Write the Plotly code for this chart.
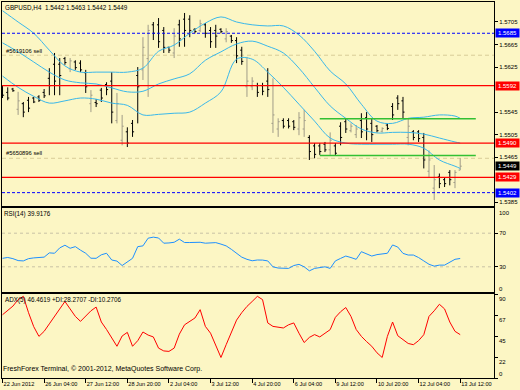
import plotly.graph_objects as go

# ---------------- data ----------------
bar_idx = list(range(89))
bar_open = [1.5588, 1.5580, 1.5586, 1.5550, 1.5560, 1.5566, 1.5570, 1.5572, 1.5580, 1.5605,
            1.5630, 1.5630, 1.5640, 1.5622, 1.5634, 1.5632, 1.5615, 1.5560, 1.5562, 1.5584,
            1.5594, 1.5600, 1.5530, 1.5495, 1.5510, 1.5525, 1.5610, 1.5620, 1.5640, 1.5700,
            1.5700, 1.5690, 1.5660, 1.5650, 1.5700, 1.5710, 1.5710, 1.5692, 1.5690, 1.5700,
            1.5690, 1.5690, 1.5692, 1.5675, 1.5680, 1.5672, 1.5655, 1.5590, 1.5590, 1.5592,
            1.5592, 1.5600, 1.5525, 1.5515, 1.5530, 1.5530, 1.5528, 1.5515, 1.5515, 1.5500,
            1.5485, 1.5485, 1.5488, 1.5478, 1.5485, 1.5520, 1.5528, 1.5512, 1.5505, 1.5530,
            1.5535, 1.5525, 1.5520, 1.5511, 1.5522, 1.5555, 1.5570, 1.5565, 1.5500, 1.5510,
            1.5510, 1.5500, 1.5440, 1.5410, 1.5430, 1.5425, 1.5438, 1.5420, 1.5442]
bar_high = [1.5593, 1.5589, 1.5588, 1.5581, 1.5563, 1.5572, 1.5572, 1.5575, 1.5586, 1.5623,
            1.5650, 1.5641, 1.5643, 1.5641, 1.5637, 1.5637, 1.5620, 1.5584, 1.5568, 1.5588,
            1.5598, 1.5616, 1.5579, 1.5540, 1.5518, 1.5531, 1.5625, 1.5678, 1.5700, 1.5705,
            1.5712, 1.5696, 1.5661, 1.5694, 1.5709, 1.5721, 1.5717, 1.5694, 1.5709, 1.5703,
            1.5696, 1.5700, 1.5694, 1.5694, 1.5682, 1.5678, 1.5661, 1.5643, 1.5607, 1.5597,
            1.5597, 1.5623, 1.5605, 1.5534, 1.5534, 1.5534, 1.5531, 1.5545, 1.5549, 1.5504,
            1.5490, 1.5490, 1.5492, 1.5509, 1.5490, 1.5527, 1.5534, 1.5525, 1.5522, 1.5543,
            1.5545, 1.5534, 1.5522, 1.5518, 1.5525, 1.5561, 1.5575, 1.5572, 1.5534, 1.5513,
            1.5513, 1.5508, 1.5477, 1.5451, 1.5436, 1.5429, 1.5442, 1.5442, 1.5463]
bar_low = [1.5570, 1.5566, 1.5581, 1.5540, 1.5536, 1.5545, 1.5561, 1.5563, 1.5570, 1.5575,
           1.5575, 1.5575, 1.5629, 1.5616, 1.5620, 1.5616, 1.5579, 1.5545, 1.5554, 1.5563,
           1.5575, 1.5525, 1.5525, 1.5486, 1.5483, 1.5501, 1.5525, 1.5602, 1.5572, 1.5673,
           1.5659, 1.5650, 1.5650, 1.5641, 1.5661, 1.5661, 1.5678, 1.5685, 1.5687, 1.5677,
           1.5659, 1.5659, 1.5685, 1.5669, 1.5668, 1.5632, 1.5629, 1.5572, 1.5584, 1.5572,
           1.5575, 1.5572, 1.5508, 1.5501, 1.5516, 1.5516, 1.5513, 1.5504, 1.5501, 1.5460,
           1.5463, 1.5469, 1.5474, 1.5469, 1.5469, 1.5486, 1.5508, 1.5509, 1.5499, 1.5499,
           1.5495, 1.5492, 1.5509, 1.5509, 1.5513, 1.5531, 1.5549, 1.5534, 1.5486, 1.5495,
           1.5492, 1.5445, 1.5429, 1.5389, 1.5410, 1.5412, 1.5415, 1.5410, 1.5442]
bar_close = [1.5575, 1.5570, 1.5583, 1.5565, 1.5545, 1.5552, 1.5563, 1.5566, 1.5574, 1.5592,
             1.5600, 1.5610, 1.5633, 1.5636, 1.5624, 1.5620, 1.5590, 1.5575, 1.5560, 1.5570,
             1.5585, 1.5545, 1.5560, 1.5520, 1.5490, 1.5510, 1.5590, 1.5660, 1.5690, 1.5685,
             1.5670, 1.5660, 1.5655, 1.5680, 1.5675, 1.5690, 1.5690, 1.5688, 1.5702, 1.5685,
             1.5670, 1.5680, 1.5688, 1.5688, 1.5672, 1.5645, 1.5635, 1.5600, 1.5600, 1.5580,
             1.5582, 1.5585, 1.5540, 1.5528, 1.5520, 1.5520, 1.5518, 1.5535, 1.5530, 1.5475,
             1.5470, 1.5475, 1.5478, 1.5495, 1.5472, 1.5500, 1.5515, 1.5520, 1.5515, 1.5510,
             1.5515, 1.5505, 1.5512, 1.5516, 1.5516, 1.5540, 1.5560, 1.5545, 1.5520, 1.5500,
             1.5498, 1.5460, 1.5460, 1.5425, 1.5418, 1.5418, 1.5425, 1.5438, 1.5449]

band_idx = [0, 3, 6, 9, 12, 15, 18, 21, 24, 27, 30, 33, 36, 39, 42, 45, 48, 51, 54, 57,
            60, 63, 66, 69, 72, 75, 78, 81, 84, 87, 88]
band_upper = [1.5725, 1.5705, 1.5685, 1.5655, 1.5627, 1.5616, 1.5616, 1.5616, 1.5616, 1.5623,
              1.5653, 1.5664, 1.5685, 1.5703, 1.5714, 1.5705, 1.5700, 1.5698, 1.5698, 1.5682,
              1.5653, 1.5618, 1.5595, 1.5559, 1.5529, 1.5525, 1.5534, 1.5536, 1.5540, 1.5538, 1.5534]
band_middle = [1.5668, 1.5652, 1.5634, 1.5616, 1.5602, 1.5597, 1.5595, 1.5588, 1.5581, 1.5582,
               1.5595, 1.5604, 1.5613, 1.5637, 1.5652, 1.5666, 1.5671, 1.5662, 1.5650, 1.5623,
               1.5589, 1.5556, 1.5534, 1.5515, 1.5508, 1.5509, 1.5509, 1.5506, 1.5499, 1.5492, 1.5490]
band_lower = [1.5609, 1.5589, 1.5573, 1.5561, 1.5565, 1.5570, 1.5568, 1.5561, 1.5557, 1.5540,
              1.5541, 1.5543, 1.5545, 1.5561, 1.5581, 1.5639, 1.5639, 1.5616, 1.5589, 1.5559,
              1.5529, 1.5499, 1.5490, 1.5488, 1.5488, 1.5488, 1.5488, 1.5481, 1.5460, 1.5449, 1.5445]

rsi = [40.1, 41.1, 39.7, 37.4, 37.0, 39.7, 40.6, 41.1, 41.5, 46.6,
       46.1, 52.5, 55.7, 52.1, 54.0, 49.8, 46.1, 40.2, 40.1, 44.3,
       46.1, 38.1, 36.8, 31.5, 36.0, 40.1, 54.0, 54.9, 64.1, 65.3,
       64.3, 58.1, 58.4, 59.2, 62.9, 58.9, 58.9, 59.2, 59.2, 58.1,
       58.4, 58.8, 57.0, 54.9, 50.8, 45.7, 41.5, 38.9, 37.2, 38.1,
       38.0, 37.0, 30.0, 28.5, 28.1, 28.1, 31.5, 32.9, 30.0, 25.2,
       28.1, 29.3, 30.0, 28.1, 37.0, 40.0, 42.8, 41.0, 38.9, 48.0,
       44.9, 42.8, 44.5, 45.5, 46.1, 56.0, 53.5, 46.0, 44.0, 44.0,
       41.0, 37.0, 33.0, 30.8, 32.0, 32.0, 35.0, 38.9, 39.9]
adx = [67.8, 72.0, 77.0, 84.0, 87.5, 70.0, 55.0, 44.6, 50.0, 58.0,
       66.0, 74.0, 82.0, 74.0, 66.0, 60.7, 66.0, 72.0, 76.0, 60.0,
       52.0, 43.0, 34.0, 45.0, 48.9, 34.0, 40.0, 49.3, 46.0, 44.0,
       32.0, 29.0, 28.5, 32.0, 47.0, 57.0, 61.0, 64.3, 73.2, 55.3,
       48.0, 35.0, 22.0, 35.7, 48.0, 62.0, 70.0, 76.7, 82.0, 87.5,
       84.0, 59.0, 55.3, 54.5, 53.6, 57.0, 59.0, 48.0, 38.0, 43.5,
       46.5, 44.0, 48.0, 51.8, 65.0, 71.0, 75.5, 66.0, 52.0, 44.6,
       39.0, 34.0, 27.0, 22.0, 44.6, 60.0, 45.3, 41.0, 37.0, 35.7,
       40.0, 46.4, 66.0, 72.0, 79.0, 74.0, 60.0, 50.0, 46.46]

x_tick_bars = [0, 8, 16, 24, 32, 40, 48, 56, 64, 72, 80, 88]
x_tick_labels = ["22 Jun 2012", "26 Jun 04:00", "27 Jun 12:00", "28 Jun 20:00", "2 Jul 04:00",
                 "3 Jul 12:00", "4 Jul 20:00", "6 Jul 04:00", "9 Jul 12:00", "10 Jul 20:00",
                 "12 Jul 04:00", "13 Jul 12:00"]
price_ticks = [1.5705, 1.5665, 1.5625, 1.5545, 1.5505, 1.5465, 1.5385]

box_levels = [1.5685, 1.5592, 1.5490, 1.5449, 1.5429, 1.5402]
box_colors = ["#0000FF", "#FF0000", "#FF0000", "#000000", "#FF0000", "#0000FF"]
red_levels = [1.5592, 1.5490, 1.5429]
blue_levels = [1.5685, 1.5402]
order_levels = [1.5646, 1.5463]
order_names = ["#5619106 sell", "#5650896 sell"]
green_levels = [1.5533, 1.5468]
green_span = [61, 91]
rsi_levels = [70, 30]
adx_ticks = [90, 67.5, 45, 22.5, 0]
adx_tick_text = ["90", "67", "45", "22", "0"]

title_text = "GBPUSD,H4  1.5442 1.5463 1.5442 1.5449"
rsi_text = "RSI(14) 39.9176"
adx_text = "ADX(5) 46.4619 +DI:28.2707 -DI:10.2706"
footer_text = "FreshForex Terminal, \u00a9 2001-2012, MetaQuotes Software Corp."

# ---------------- layout helpers ----------------
W, H = 520, 390
L, R, T, B = 2, 26, 2, 12
PH = H - T - B
BG = "#FCF6C4"
FONT = "Liberation Sans, Arial, sans-serif"
BAND = "#3AB8EA"


def py(px):
    return (H - B - px) / PH


def px_x(px):
    return (px - L) / (W - L - R)


fig = go.Figure()

fig.add_trace(go.Ohlc(
    x=bar_idx, open=bar_open, high=bar_high, low=bar_low, close=bar_close,
    increasing=dict(line=dict(color="#A09C88", width=1)),
    decreasing=dict(line=dict(color="#000000", width=1)),
    tickwidth=0.3, hoverinfo="skip", xaxis="x", yaxis="y", showlegend=False))

for band in (band_upper, band_middle, band_lower):
    fig.add_trace(go.Scatter(x=band_idx, y=band, mode="lines", line=dict(color=BAND, width=1, shape="spline"),
                             hoverinfo="skip", showlegend=False, xaxis="x", yaxis="y"))

fig.add_trace(go.Scatter(x=bar_idx, y=rsi, mode="lines", line=dict(color="#1E90FF", width=1),
                         hoverinfo="skip", showlegend=False, xaxis="x2", yaxis="y2"))
fig.add_trace(go.Scatter(x=bar_idx, y=adx, mode="lines", line=dict(color="#FF0000", width=1),
                         hoverinfo="skip", showlegend=False, xaxis="x3", yaxis="y3"))

shapes = []
for lv in order_levels:
    shapes.append(dict(type="line", xref="x domain", yref="y", x0=0, x1=1, y0=lv, y1=lv,
                       line=dict(color="#D8CC98", width=1, dash="4px,3px"), layer="below"))
for lv in red_levels:
    shapes.append(dict(type="line", xref="x domain", yref="y", x0=0, x1=1, y0=lv, y1=lv,
                       line=dict(color="#FF0000", width=1.2)))
for lv in blue_levels:
    shapes.append(dict(type="line", xref="x domain", yref="y", x0=0, x1=1, y0=lv, y1=lv,
                       line=dict(color="#0000FF", width=1, dash="3px,2px")))
for lv in green_levels:
    shapes.append(dict(type="line", xref="x", yref="y", x0=green_span[0], x1=green_span[1], y0=lv, y1=lv,
                       line=dict(color="#33C033", width=1.5)))
for lv in rsi_levels:
    shapes.append(dict(type="line", xref="x2 domain", yref="y2", x0=0, x1=1, y0=lv, y1=lv,
                       line=dict(color="#C9C3A6", width=1, dash="3px,3px"), layer="below"))

ann = []


def text(x_px, y_px, s, size, color="#000000", xanchor="left"):
    ann.append(dict(xref="paper", yref="paper", x=px_x(x_px), y=py(y_px), text=s, showarrow=False,
                    xanchor=xanchor, yanchor="middle", font=dict(family=FONT, size=size, color=color)))


text(3, 7, title_text, 6.3)
text(4, 51, order_names[0], 5.8)
text(4, 153, order_names[1], 5.8)
text(2, 214, rsi_text, 6.3)
text(3, 300, adx_text, 6.3)
text(1, 369, footer_text, 7)

# RSI edge labels
text(497, 212.5, "100", 6)
text(497, 288.5, "0", 6)
# ADX labels
for v, s in zip(adx_ticks, adx_tick_text):
    ypix = 294 + (90 - v) * 84 / 90 + 5
    ypix = min(ypix, 374.3)
    text(497, ypix, s, 6)

for lv, col in zip(box_levels, box_colors):
    ann.append(dict(xref="paper", yref="y", x=1, y=lv, text=lv.__format__(".4f"), showarrow=False,
                    xanchor="left", yanchor="middle", xshift=1, bgcolor=col, borderpad=0,
                    width=23, height=8, align="center",
                    font=dict(family=FONT, size=6, color="#FFFFFF")))

axis_common = dict(showline=True, linecolor="#000000", linewidth=1, mirror=True, showgrid=False,
                   zeroline=False, tickfont=dict(family=FONT, size=6, color="#000000"))

fig.update_layout(
    width=W, height=H, margin=dict(l=L, r=R, t=T, b=B),
    paper_bgcolor=BG, plot_bgcolor=BG, showlegend=False,
    shapes=shapes, annotations=ann,
    xaxis=dict(domain=[0, 1], anchor="y", range=[-0.1, 94.5], showticklabels=False, ticks="",
               rangeslider=dict(visible=False), **axis_common),
    xaxis2=dict(domain=[0, 1], anchor="y2", matches="x", showticklabels=False, ticks="", **axis_common),
    xaxis3=dict(domain=[0, 1], anchor="y3", matches="x", tickvals=x_tick_bars, ticktext=x_tick_labels,
                ticks="outside", ticklen=4, tickcolor="#000000", ticklabelposition="outside right",
                tickangle=0, **{k: v for k, v in axis_common.items() if k != "tickfont"},
                tickfont=dict(family=FONT, size=5.6, color="#000000")),
    yaxis=dict(domain=[py(206), py(2)], anchor="x", side="right", range=[1.53783, 1.57405],
               tickvals=price_ticks, ticktext=[f"{v:.4f}" for v in price_ticks],
               ticks="outside", ticklen=3, tickcolor="#000000", **axis_common),
    yaxis2=dict(domain=[py(292), py(208)], anchor="x2", side="right", range=[0, 100],
                tickvals=rsi_levels, ticks="outside", ticklen=3, tickcolor="#000000", **axis_common),
    yaxis3=dict(domain=[py(378), py(294)], anchor="x3", side="right", range=[0, 90],
                tickvals=adx_ticks, showticklabels=False, ticks="outside", ticklen=3,
                tickcolor="#000000", **axis_common),
)

fig.write_html("out.html", config={"displayModeBar": False},
               post_script="document.body.style.margin='0';document.body.style.overflow='hidden';")
